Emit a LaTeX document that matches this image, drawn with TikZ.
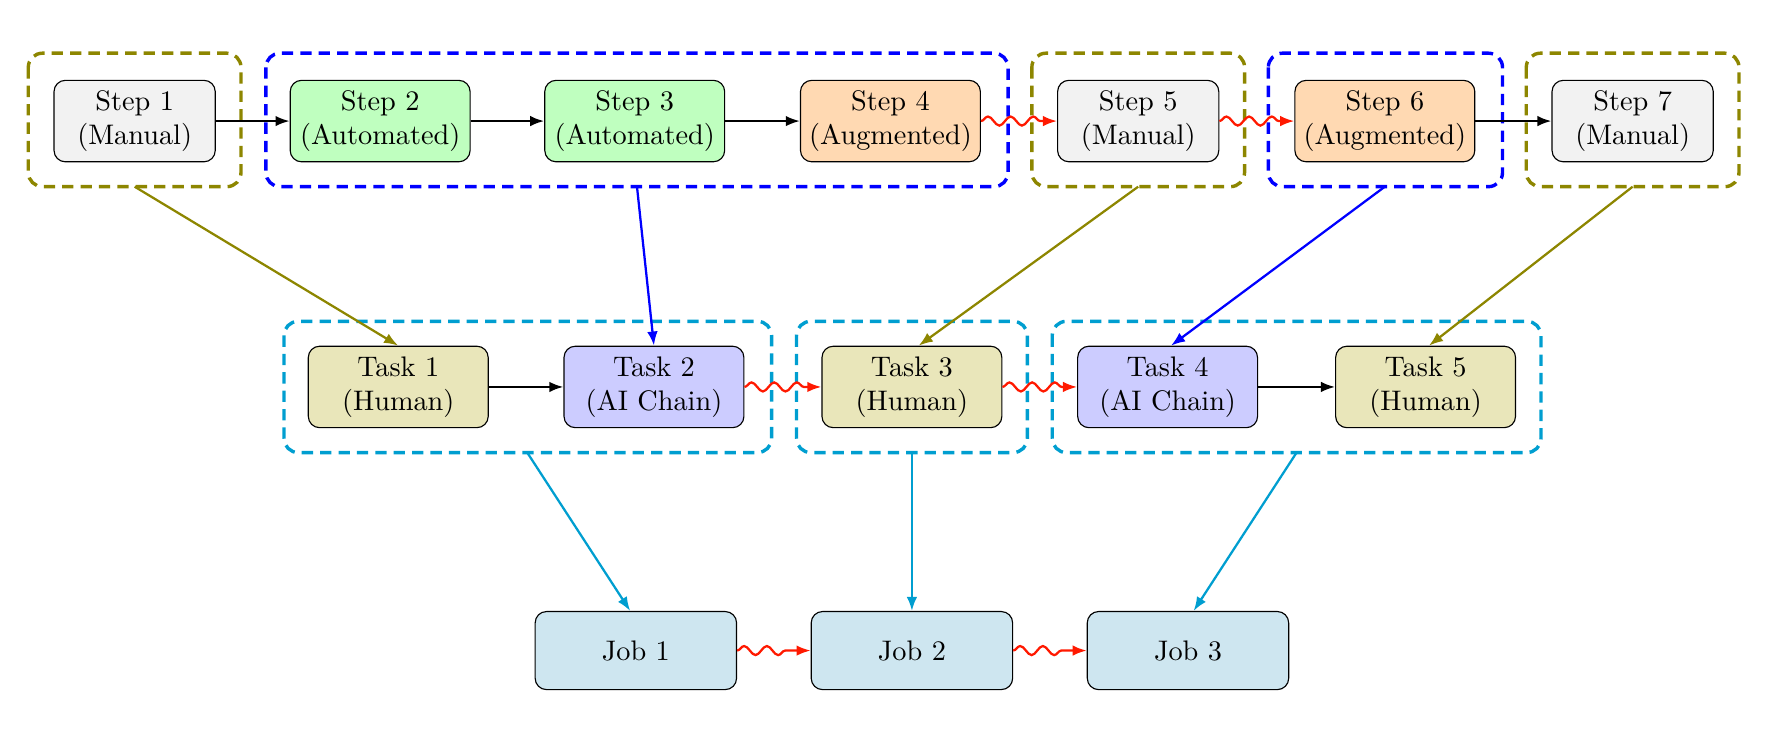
\documentclass[tikz,border=0pt]{standalone}
\usetikzlibrary{arrows.meta,decorations.pathmorphing}
\definecolor{jobfill}{RGB}{206,230,240}
\definecolor{cyanline}{RGB}{0,158,208}
\begin{document}
\begin{tikzpicture}[x=0.4pt,y=-0.4pt,
 box/.style={draw,rounded corners=4pt,align=center,minimum height=28.8pt,inner sep=1pt},
 manual/.style={box,fill=gray!10,minimum width=57pt},
 auto/.style={box,fill=green!25,minimum width=63.6pt},
 aug/.style={box,fill=orange!30,minimum width=63.6pt},
 human/.style={box,fill=olive!20,minimum width=63.6pt},
 ai/.style={box,fill=blue!20,minimum width=63.6pt},
 job/.style={box,fill=jobfill,minimum width=71.2pt,minimum height=27.6pt},
 grp/.style={dashed,very thick,rounded corners=5pt,dash pattern=on 4pt off 2.5pt},
 arr/.style={-{Latex[length=5pt]},thick},
 snk/.style={-{Latex[length=5pt]},thick,red!80!orange,decorate,decoration={snake,amplitude=1.6pt,segment length=8pt,post length=5pt}}]
\useasboundingbox (0,0) rectangle (1560,647);
\node[manual] (s1) at (119,107) {Step 1\\(Manual)};
\node[auto] (s2) at (336,107) {Step 2\\(Automated)};
\node[auto] (s3) at (561,107) {Step 3\\(Automated)};
\node[aug] (s4) at (787,107) {Step 4\\(Augmented)};
\node[manual] (s5) at (1006,107) {Step 5\\(Manual)};
\node[aug] (s6) at (1224,107) {Step 6\\(Augmented)};
\node[manual] (s7) at (1443,107) {Step 7\\(Manual)};
\node[human] (t1) at (352,342) {Task 1\\(Human)};
\node[ai] (t2) at (578,342) {Task 2\\(AI Chain)};
\node[human] (t3) at (806,342) {Task 3\\(Human)};
\node[ai] (t4) at (1032,342) {Task 4\\(AI Chain)};
\node[human] (t5) at (1260,342) {Task 5\\(Human)};
\node[job] (j1) at (562,575) {Job 1};
\node[job] (j2) at (806,575) {Job 2};
\node[job] (j3) at (1050,575) {Job 3};
\draw[grp,olive] (25,47) rectangle (213,165);
\draw[grp,blue] (235,47) rectangle (891,165);
\draw[grp,olive] (912,47) rectangle (1100,165);
\draw[grp,blue] (1121,47) rectangle (1328,165);
\draw[grp,olive] (1349,47) rectangle (1537,165);
\draw[grp,cyanline] (251,284) rectangle (682,400);
\draw[grp,cyanline] (704,284) rectangle (908,400);
\draw[grp,cyanline] (930,284) rectangle (1362,400);
\coordinate (g1) at (119,165); \coordinate (g2) at (563,165); \coordinate (g3) at (1006,165);
\coordinate (g4) at (1224,165); \coordinate (g5) at (1443,165);
\coordinate (h1) at (466,400); \coordinate (h2) at (806,400); \coordinate (h3) at (1146,400);
\draw[arr] (s1) -- (s2); \draw[arr] (s2) -- (s3); \draw[arr] (s3) -- (s4); \draw[arr] (s6) -- (s7);
\draw[snk] (s4) -- (s5); \draw[snk] (s5) -- (s6);
\draw[arr] (t1) -- (t2); \draw[arr] (t4) -- (t5);
\draw[snk] (t2) -- (t3); \draw[snk] (t3) -- (t4);
\draw[snk] (j1) -- (j2); \draw[snk] (j2) -- (j3);
\draw[arr,olive] (g1) -- (t1.north);
\draw[arr,blue] (g2) -- (t2.north);
\draw[arr,olive] (g3) -- ([xshift=2.4pt]t3.north);
\draw[arr,blue] (g4) -- ([xshift=1.2pt]t4.north);
\draw[arr,olive] (g5) -- ([xshift=1.2pt]t5.north);
\draw[arr,cyanline] (h1) -- ([xshift=-2pt]j1.north);
\draw[arr,cyanline] (h2) -- (j2.north);
\draw[arr,cyanline] (h3) -- ([xshift=2pt]j3.north);
\end{tikzpicture}
\end{document}
